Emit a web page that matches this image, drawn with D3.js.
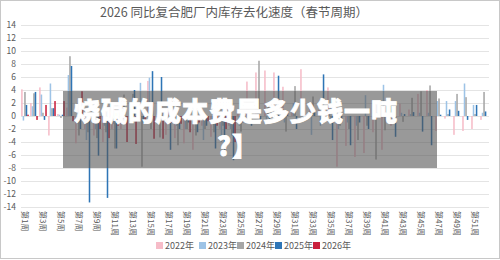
<!DOCTYPE html>
<html>
<head>
<meta charset="utf-8">
<script src="https://cdn.jsdelivr.net/npm/d3@7/dist/d3.min.js"></script>
<style>
  body { margin: 0; background: #fff; }
  text { font-family: "Noto Sans CJK SC", "Noto Sans", sans-serif; }
</style>
</head>
<body>
<svg width="500" height="260"></svg>
<script>
const weeks = d3.range(1, 53).map(i => "第" + i + "周");
const seriesNames = ["2022年", "2023年", "2024年", "2025年", "2026年"];
const colors = ["#f6bcc8", "#9dc3e6", "#a6a6a6", "#2e75b6", "#c9203d"];
const yTicks = d3.range(-14, 15, 2);

const v2022 = [4.1, 2.0, 4.4, -3.0, 0.3, 1.3, -4.2, -2.0, -3.0, -4.0, -2.0, -2.0, -1.0, 1.0, 5.4, -1.0,
  -2.9, -3.4, -4.2, -5.2, -1.5, -3.2, -2.0, -1.5, 1.0, 5.3, 6.7, 7.0, 6.7, 4.5, 1.0, 7.2, 1.5, 1.0, 4.4,
  -7.8, -4.6, -6.3, -5.7, -2.5, -5.2, -1.5, 1.9, 1.0, 3.4, 4.0, -2.3, -0.4, -2.9, -2.3, -2.0, -0.6];
const v2023 = [-0.7, 1.5, 3.3, 5.0, 0.2, 6.3, -1.2, -3.7, -2.0, -1.5, -1.2, -1.0, -1.0, 5.1, 5.9, 1.0,
  -1.0, -1.5, -2.0, -1.0, -3.7, -1.0, -4.0, -2.0, -1.5, 1.0, 2.0, -1.0, -0.5, -1.0, 2.0, 1.5, -2.9, -1.5, 1.0,
  -2.0, -1.0, -1.5, 3.2, 1.0, 4.8, 1.0, 0.5, 0.3, 0.5, 0.5, 2.3, 2.3, 2.3, 5.0, 1.7, 0.5];
const v2024 = [3.7, 3.5, 0.5, 1.2, -0.3, 9.2, -3.0, -2.5, -3.4, -2.5, -5.0, 3.3, 3.4, -7.8, -2.0, -3.3,
  0.6, -4.5, -2.0, -3.0, -2.0, -2.5, -1.5, -3.0, -2.4, -1.0, 8.5, 2.0, 1.5, -2.4, 4.6, 2.0, 3.0, 2.0, -1.0,
  -1.5, -2.0, -3.7, -1.5, -6.7, -2.2, 1.5, -0.9, 2.8, 3.8, 4.7, 2.7, 0.3, 3.4, 2.9, 0.3, 3.7];
const v2025 = [1.7, 3.7, -0.6, 1.2, 0.2, 7.7, -2.0, -13.3, -6.1, -12.6, -5.0, -1.0, 4.0, -1.0, 6.9, 6.0,
  -5.2, -2.0, -1.0, -2.5, -1.5, -5.0, -5.7, -6.8, -1.0, -1.5, -1.0, -0.5, 6.2, 0.5, -2.0, -0.5, 0.5, 6.4, -3.7,
  -1.0, -4.5, -1.0, -2.0, 0.6, 1.5, -3.2, 0.3, 0.6, -2.4, -4.5, 0.2, 1.0, 0.8, -0.6, 1.7, 0.7];
const v2026 = [0.2, -0.6, 1.7, 2.3, 2.3, -0.8, 3.8, -0.5, -2.0, -3.4, -1.5, -4.0, -4.3, -1.0, -3.5, -3.5,
  -1.0, -1.2, -2.5, -1.0, -0.8, -1.5, -2.0, -4.0];
const allSeries = [v2022, v2023, v2024, v2025, v2026];

const svg = d3.select("svg");
const width = 500, height = 260;

// chart frame
svg.append("rect")
  .attr("x", 0.5).attr("y", 0.5)
  .attr("width", width - 1).attr("height", height - 2)
  .attr("fill", "#fff").attr("stroke", "#c8c8c8");

svg.append("text")
  .attr("x", 234).attr("y", 17)
  .attr("text-anchor", "middle")
  .attr("font-size", "12.5px")
  .attr("fill", "#595959")
  .text("2026 同比复合肥厂内库存去化速度（春节周期）");

const x = d3.scaleBand().domain(weeks).range([20.5, 488.5]).paddingInner(0.15).paddingOuter(0.07);
const xs = d3.scaleBand().domain(seriesNames).range([0, x.bandwidth()]);
const y = d3.scaleLinear().domain([-14, 14]).range([207, 25]);

// grid
svg.append("g")
  .selectAll("line")
  .data(yTicks)
  .enter().append("line")
  .attr("x1", 21).attr("x2", 489)
  .attr("y1", d => Math.round(y(d)) + 0.5)
  .attr("y2", d => Math.round(y(d)) + 0.5)
  .attr("stroke", "#e4e4e4");

// y labels
svg.append("g")
  .selectAll("text")
  .data(yTicks)
  .enter().append("text")
  .attr("x", 16).attr("y", d => y(d) + 3)
  .attr("text-anchor", "end")
  .attr("font-size", "8.5px")
  .attr("fill", "#595959")
  .text(d => d);

// bars
allSeries.forEach(function (vals, si) {
  svg.append("g")
    .selectAll("rect")
    .data(vals.map((v, i) => ({ week: weeks[i], v: v })))
    .enter().append("rect")
    .attr("x", d => x(d.week) + xs(seriesNames[si]))
    .attr("width", xs.bandwidth())
    .attr("y", d => y(Math.max(0, d.v)))
    .attr("height", d => Math.abs(y(d.v) - y(0)))
    .attr("fill", colors[si]);
});

// x labels, every other week
svg.append("g")
  .selectAll("text")
  .data(weeks.filter((w, i) => i % 2 === 0))
  .enter().append("text")
  .attr("transform", d => "translate(" + (x(d) + x.bandwidth() / 2 - 3) + ",211) rotate(90)")
  .attr("font-size", "8px")
  .attr("fill", "#595959")
  .text(d => d);

// legend
const legendX = [156, 199, 237, 275, 313];
const legend = svg.append("g");
seriesNames.forEach(function (name, i) {
  legend.append("rect")
    .attr("x", legendX[i]).attr("y", 242)
    .attr("width", 7).attr("height", 7)
    .attr("fill", colors[i]);
  legend.append("text")
    .attr("x", legendX[i] + 9).attr("y", 249)
    .attr("font-size", "9px")
    .attr("fill", "#595959")
    .text(name);
});

// grey overlay banner
svg.append("rect")
  .attr("x", 63).attr("y", 91)
  .attr("width", 374).attr("height", 77)
  .attr("fill", "#555").attr("opacity", 0.6);

const banner = svg.append("text")
  .attr("text-anchor", "middle")
  .attr("font-size", "26px")
  .attr("font-weight", 900)
  .attr("letter-spacing", "1px")
  .attr("fill", "#fff")
  .attr("stroke", "#fff")
  .attr("stroke-width", 0.8);
banner.append("tspan").attr("x", 236).attr("y", 121).text("烧碱的成本费是多少钱一吨");
banner.append("tspan").attr("x", 238).attr("y", 156).text("?】");
</script>
</body>
</html>
